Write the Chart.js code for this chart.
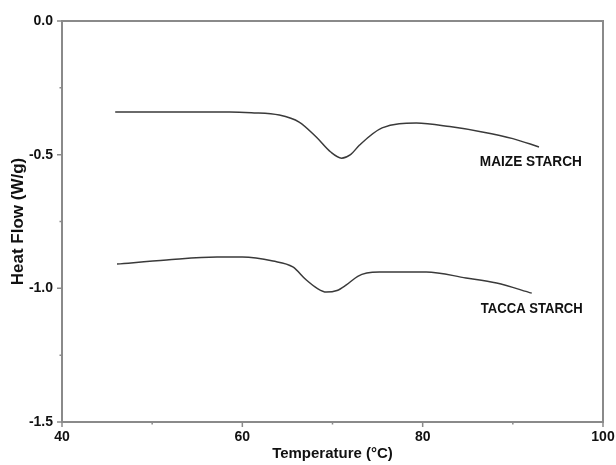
<!DOCTYPE html>
<html>
<head>
<meta charset="utf-8">
<script src="https://cdn.jsdelivr.net/npm/chart.js@4"></script>
<style>
  html, body { margin: 0; padding: 0; background: #fff; }
  #wrap { width: 616px; height: 465px; }
</style>
</head>
<body>
<div id="wrap"><canvas id="dsc" width="616" height="465"></canvas></div>
<script>
// ---- Data ----
const maizeTemp = [45.9, 50, 55, 58.6, 61, 64.1, 66.3, 68.2, 69.8, 71.0, 72.0, 73.0, 75.5, 79.3, 83.0, 86.6, 90, 92.9];
const maizeFlow = [-0.340, -0.340, -0.340, -0.340, -0.343, -0.352, -0.378, -0.434, -0.490, -0.513, -0.500, -0.464, -0.400, -0.382, -0.395, -0.415, -0.440, -0.471];

const taccaTemp = [46.1, 51.6, 57.2, 60.0, 63.4, 65.6, 67.1, 68.3, 69.3, 70.5, 71.5, 72.8, 73.8, 75.2, 80.4, 84.8, 88.2, 92.1];
const taccaFlow = [-0.909, -0.894, -0.883, -0.883, -0.898, -0.920, -0.969, -1.000, -1.014, -1.008, -0.988, -0.955, -0.943, -0.939, -0.939, -0.961, -0.980, -1.018];

const xMajor = [40, 60, 80, 100];
const xMinor = [50, 70, 90];
const yMajor = [0, -0.5, -1.0, -1.5];
const yMinor = [-0.25, -0.75, -1.25];

const curveLabels = [
  { text: 'MAIZE STARCH', x: 92.0, y: -0.527 },
  { text: 'TACCA STARCH', x: 92.1, y: -1.077 }
];

const toPoints = (xs, ys) => xs.map((x, i) => ({ x, y: ys[i] }));

const FRAME = '#8a8a8a';
const INK = '#111';

// ---- Frame, tick marks and curve labels ----
const framePlugin = {
  id: 'frame',
  afterDraw(chart) {
    const { ctx, chartArea: a, scales: { x, y } } = chart;
    ctx.save();
    ctx.strokeStyle = FRAME;
    ctx.lineWidth = 2;
    ctx.strokeRect(a.left, a.top, a.right - a.left, a.bottom - a.top);

    ctx.lineWidth = 1.5;
    ctx.beginPath();
    xMajor.forEach(v => { const p = x.getPixelForValue(v); ctx.moveTo(p, a.bottom); ctx.lineTo(p, a.bottom + 5); });
    xMinor.forEach(v => { const p = x.getPixelForValue(v); ctx.moveTo(p, a.bottom); ctx.lineTo(p, a.bottom + 2.5); });
    yMajor.forEach(v => { const p = y.getPixelForValue(v); ctx.moveTo(a.left, p); ctx.lineTo(a.left - 5, p); });
    yMinor.forEach(v => { const p = y.getPixelForValue(v); ctx.moveTo(a.left, p); ctx.lineTo(a.left - 2.5, p); });
    ctx.stroke();

    ctx.fillStyle = INK;
    ctx.font = 'bold 14px "Liberation Sans", Arial, sans-serif';
    ctx.textAlign = 'center';
    ctx.textBaseline = 'middle';
    curveLabels.forEach(l => {
      const px = x.getPixelForValue(l.x), py = y.getPixelForValue(l.y);
      const w = ctx.measureText(l.text).width;
      const sx = Math.min(1, 102 / w);
      ctx.save();
      ctx.translate(px, py);
      ctx.scale(sx, 1);
      ctx.fillText(l.text, 0, 0);
      ctx.restore();
    });
    ctx.restore();
  }
};

const tickFont = { family: '"Liberation Sans", Arial, sans-serif', size: 14, weight: 'bold' };

new Chart(document.getElementById('dsc'), {
  type: 'line',
  data: {
    datasets: [
      { label: 'Maize starch', data: toPoints(maizeTemp, maizeFlow) },
      { label: 'Tacca starch', data: toPoints(taccaTemp, taccaFlow) }
    ]
  },
  options: {
    responsive: false,
    animation: false,
    events: [],
    layout: { padding: { top: 21, right: 13, left: 0, bottom: 0 } },
    elements: {
      line: { borderColor: '#3a3a3a', borderWidth: 1.5, cubicInterpolationMode: 'monotone', fill: false },
      point: { radius: 0 }
    },
    plugins: { legend: { display: false }, tooltip: { enabled: false } },
    scales: {
      x: {
        type: 'linear', min: 40, max: 100,
        afterBuildTicks: s => { s.ticks = xMajor.map(v => ({ value: v })); },
        afterFit: s => { s.height = 43; s.paddingLeft = 0; s.paddingRight = 0; },
        grid: { display: false, drawTicks: false },
        border: { display: false },
        ticks: { color: INK, font: tickFont, padding: 7, maxRotation: 0 },
        title: { display: true, text: 'Temperature (°C)', color: INK,
                 font: { family: '"Liberation Sans", Arial, sans-serif', size: 15, weight: 'bold' },
                 padding: { top: 0, bottom: 2 } }
      },
      y: {
        type: 'linear', min: -1.5, max: 0,
        afterBuildTicks: s => { s.ticks = yMajor.slice().reverse().map(v => ({ value: v })); },
        afterFit: s => { s.width = 62; s.paddingTop = 0; s.paddingBottom = 0; },
        grid: { display: false, drawTicks: false },
        border: { display: false },
        ticks: { color: INK, font: tickFont, padding: 9, callback: v => v.toFixed(1) },
        title: { display: true, text: 'Heat Flow (W/g)', color: INK,
                 font: { family: '"Liberation Sans", Arial, sans-serif', size: 17, weight: 'bold' },
                 padding: { top: 8, bottom: 0 } }
      }
    }
  },
  plugins: [framePlugin]
});
</script>
</body>
</html>
